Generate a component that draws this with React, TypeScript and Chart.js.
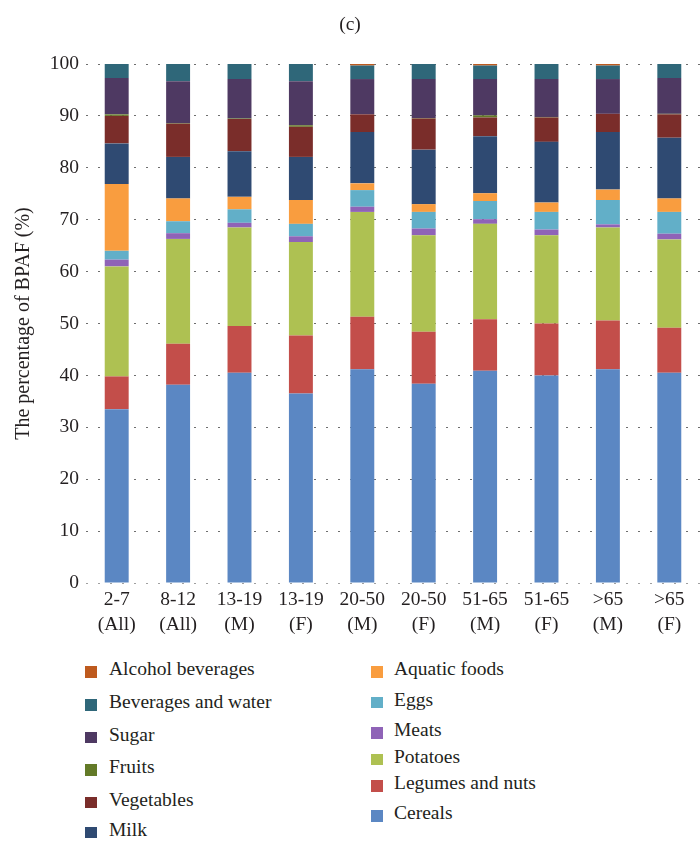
import React, { useEffect, useRef } from "react";
import { Chart, registerables } from "chart.js";

Chart.register(...registerables);

// ---------- data ----------
const categories: string[][] = [
  ["2-7", "(All)"],
  ["8-12", "(All)"],
  ["13-19", "(M)"],
  ["13-19", "(F)"],
  ["20-50", "(M)"],
  ["20-50", "(F)"],
  ["51-65", "(M)"],
  ["51-65", "(F)"],
  [">65", "(M)"],
  [">65", "(F)"],
];

const cereals = [33.5, 38.2, 40.5, 36.5, 41.2, 38.4, 40.9, 40.0, 41.2, 40.5];
const legumes = [6.3, 7.9, 9.0, 11.2, 10.1, 10.0, 9.9, 10.0, 9.4, 8.7];
const potatoes = [21.2, 20.2, 19.0, 18.0, 20.2, 18.6, 18.4, 17.0, 17.9, 17.0];
const meats = [1.3, 1.1, 0.9, 1.1, 1.0, 1.3, 0.9, 1.1, 0.6, 1.1];
const eggs = [1.7, 2.3, 2.6, 2.4, 3.2, 3.2, 3.5, 3.4, 4.7, 4.2];
const aquatic = [12.9, 4.4, 2.4, 4.6, 1.3, 1.5, 1.5, 1.8, 2.0, 2.6];
const milk = [7.8, 8.0, 8.8, 8.3, 9.9, 10.5, 11.0, 11.7, 11.1, 11.7];
const vegetables = [5.3, 6.4, 6.2, 5.8, 3.4, 6.0, 3.6, 4.7, 3.5, 4.5];
const fruits = [0.3, 0.1, 0.1, 0.3, 0.0, 0.1, 0.4, 0.1, 0.0, 0.1];
const sugar = [7.0, 8.1, 7.6, 8.5, 6.8, 7.5, 7.0, 7.3, 6.7, 6.9];
const beverages = [2.7, 3.3, 2.9, 3.3, 2.6, 2.9, 2.6, 2.9, 2.6, 2.7];
const alcohol = [0.0, 0.0, 0.0, 0.0, 0.3, 0.0, 0.3, 0.0, 0.3, 0.0];

const yTicks = [0, 10, 20, 30, 40, 50, 60, 70, 80, 90, 100];

const seriesNames = [
  "Cereals",
  "Legumes and nuts",
  "Potatoes",
  "Meats",
  "Eggs",
  "Aquatic foods",
  "Milk",
  "Vegetables",
  "Fruits",
  "Sugar",
  "Beverages and water",
  "Alcohol beverages",
];
const seriesValues = [
  cereals,
  legumes,
  potatoes,
  meats,
  eggs,
  aquatic,
  milk,
  vegetables,
  fruits,
  sugar,
  beverages,
  alcohol,
];
const seriesColors = [
  "#5B87C3",
  "#C34E4A",
  "#AEC152",
  "#8F63B7",
  "#62AFC8",
  "#F99D3F",
  "#2F4A72",
  "#7A2D2A",
  "#637A28",
  "#4E3962",
  "#2F6779",
  "#BE5A1E",
];

const legendLeft = [
  "Alcohol beverages",
  "Beverages and water",
  "Sugar",
  "Fruits",
  "Vegetables",
  "Milk",
];
const legendRight = [
  "Aquatic foods",
  "Eggs",
  "Meats",
  "Potatoes",
  "Legumes and nuts",
  "Cereals",
];

// ---------- layout (not data) ----------
const FONT = "'Liberation Serif', 'Times New Roman', serif";
const TEXT = "#231F20";
const FS = 19.5;
const leftBaselines = [676, 709, 741.5, 774, 806.5, 836.5];
const rightBaselines = [676, 706.5, 737, 763.5, 790, 820];

if (typeof document !== "undefined") {
  document.body.style.margin = "0";
}

function colorOf(name: string): string {
  return seriesColors[seriesNames.indexOf(name)];
}

export default function App() {
  const ref = useRef<HTMLCanvasElement | null>(null);

  useEffect(() => {
    if (!ref.current) return;
    const chart = new Chart(ref.current, {
      type: "bar",
      data: {
        labels: categories,
        datasets: seriesNames.map((name, i) => ({
          label: name,
          data: seriesValues[i],
          backgroundColor: seriesColors[i],
          borderWidth: 0,
          barPercentage: 0.39,
          categoryPercentage: 1,
        })),
      },
      options: {
        animation: false,
        responsive: false,
        maintainAspectRatio: false,
        layout: { padding: { top: 0, left: 0, right: 0, bottom: 0 } },
        plugins: {
          legend: { display: false },
          tooltip: { enabled: false },
          title: {
            display: true,
            text: "(c)",
            color: TEXT,
            font: { family: FONT, size: FS, weight: "normal", lineHeight: 1.2 },
            padding: { top: 13, bottom: 27.6 },
          },
        },
        scales: {
          x: {
            stacked: true,
            grid: { display: false, drawTicks: false },
            border: { display: false },
            ticks: {
              color: TEXT,
              padding: 4.5,
              maxRotation: 0,
              autoSkip: false,
              font: { family: FONT, size: FS, lineHeight: 1.28 },
            },
            afterFit: (scale: any) => {
              scale.height = 67;
            },
          },
          y: {
            stacked: true,
            min: 0,
            max: 100,
            z: 1,
            afterBuildTicks: (scale: any) => {
              scale.ticks = yTicks.map((v) => ({ value: v }));
            },
            ticks: {
              color: TEXT,
              padding: 7,
              font: { family: FONT, size: FS },
            },
            grid: {
              drawTicks: false,
              lineWidth: 1,
              color: (ctx: any) =>
                ctx.tick && ctx.tick.value === 0
                  ? "rgba(150,150,150,0.9)"
                  : "rgba(85,85,85,0.85)",
            },
            border: { display: false, dash: [2, 10] },
            title: {
              display: true,
              text: "The percentage of BPAF (%)",
              color: TEXT,
              font: { family: FONT, size: 20, lineHeight: 1.2 },
              padding: { top: 12, bottom: 0 },
            },
            afterFit: (scale: any) => {
              scale.width = 86;
            },
          },
        },
      } as any,
    });
    return () => chart.destroy();
  }, []);

  const legendItem = (name: string, baseline: number, sqLeft: number, txtLeft: number) => (
    <React.Fragment key={name}>
      <div
        style={{
          position: "absolute",
          left: sqLeft,
          top: baseline - 10,
          width: 12,
          height: 11.5,
          background: colorOf(name),
        }}
      />
      <div
        style={{
          position: "absolute",
          left: txtLeft,
          top: baseline - 17.6,
          fontFamily: FONT,
          fontSize: FS,
          lineHeight: "22px",
          color: TEXT,
          whiteSpace: "nowrap",
        }}
      >
        {name}
      </div>
    </React.Fragment>
  );

  return (
    <div
      style={{
        position: "relative",
        width: 700,
        height: 849,
        background: "#fff",
        overflow: "hidden",
      }}
    >
      <canvas
        ref={ref}
        width={700}
        height={650}
        style={{ position: "absolute", left: 0, top: 0, width: 700, height: 650 }}
      />
      {legendLeft.map((n, i) => legendItem(n, leftBaselines[i], 85, 109))}
      {legendRight.map((n, i) => legendItem(n, rightBaselines[i], 371, 394))}
    </div>
  );
}
